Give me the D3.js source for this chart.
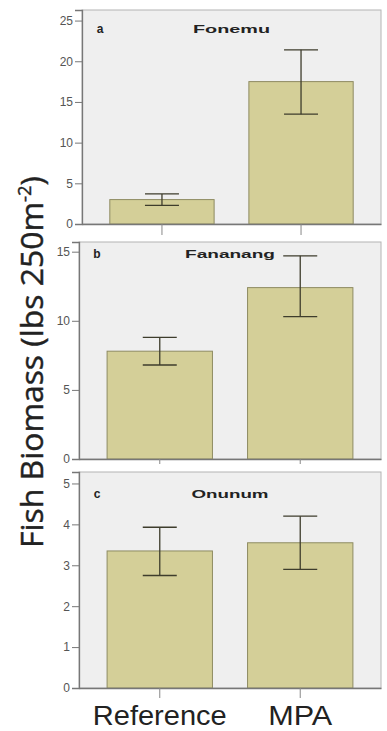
<!DOCTYPE html>
<html>
<head>
<meta charset="utf-8">
<script src="https://cdn.jsdelivr.net/npm/d3@7"></script>
<style>
  html, body { margin: 0; padding: 0; background: #fff; }
  svg { display: block; }
  .tick text { font-family: "Liberation Sans", Arial, sans-serif; }
</style>
</head>
<body>
<div id="chart"></div>
<script>
const sites = ['Fonemu', 'Fananang', 'Onunum'];
const panelLetters = ['a', 'b', 'c'];
const categories = ['Reference', 'MPA'];
// mean fish biomass per site, [Reference, MPA]
const meanBiomass = [[3.0, 17.5], [7.8, 12.4], [3.35, 3.55]];
const errLow = [[2.3, 13.5], [6.8, 10.3], [2.75, 2.9]];
const errHigh = [[3.7, 21.4], [8.8, 14.7], [3.93, 4.2]];
const yMax = [26.3, 15.7, 5.28];
const yTicks = [[0, 5, 10, 15, 20, 25], [0, 5, 10, 15], [0, 1, 2, 3, 4, 5]];

const width = 387;
const height = 731;
// vertical placement of each panel box
const panels = [
  { top: 10, bottom: 224, left: 82, tickLen: 11, titleDy: 23 },
  { top: 242, bottom: 459, left: 79, tickLen: 5, titleDy: 16 },
  { top: 472, bottom: 688, left: 79, tickLen: 10, titleDy: 26 },
];
const right = 381;
const titleWidths = [77, 90, 77];

const svg = d3.select('#chart').append('svg')
  .attr('width', width).attr('height', height);

sites.forEach((site, i) => {
  const p = panels[i];
  const x = d3.scaleBand().domain(categories).range([p.left, right])
    .paddingInner(0.25).paddingOuter(0.2);
  const y = d3.scaleLinear().domain([0, yMax[i]]).range([p.bottom, p.top]);
  const g = svg.append('g');

  g.append('rect')
    .attr('x', p.left).attr('y', p.top)
    .attr('width', right - p.left).attr('height', p.bottom - p.top)
    .attr('fill', '#efefef').attr('stroke', '#b4b4b4').attr('stroke-width', 1);

  g.selectAll('rect.bar').data(categories).join('rect')
    .attr('class', 'bar')
    .attr('x', (d) => x(d))
    .attr('y', (d, j) => y(meanBiomass[i][j]))
    .attr('width', x.bandwidth())
    .attr('height', (d, j) => y(0) - y(meanBiomass[i][j]))
    .attr('fill', '#d4cf98')
    .attr('stroke', '#8e8b62')
    .attr('stroke-width', 1);

  const capW = 34;
  categories.forEach((c, j) => {
    const cx = x(c) + x.bandwidth() / 2;
    const eg = g.append('g').attr('stroke', '#3e3d2c').attr('stroke-width', 1.3);
    eg.append('line').attr('x1', cx).attr('x2', cx)
      .attr('y1', y(errLow[i][j])).attr('y2', y(errHigh[i][j]));
    [errLow[i][j], errHigh[i][j]].forEach((v) => {
      eg.append('line').attr('x1', cx - capW / 2).attr('x2', cx + capW / 2)
        .attr('y1', y(v)).attr('y2', y(v));
    });
  });

  // y axis
  const yAxis = g.append('g').attr('transform', `translate(${p.left},0)`)
    .call(d3.axisLeft(y).tickValues(yTicks[i]).tickSize(7).tickPadding(2).tickFormat(d3.format('d')));
  yAxis.select('.domain').attr('stroke', '#777').attr('stroke-width', 1.3);
  yAxis.selectAll('.tick line').attr('stroke', '#777');
  yAxis.selectAll('.tick text').attr('fill', '#555').attr('font-size', 12);

  // x axis
  const xAxis = g.append('g').attr('transform', `translate(0,${p.bottom})`)
    .call(d3.axisBottom(x).tickSize(p.tickLen).tickSizeOuter(0).tickPadding(4));
  xAxis.select('.domain').attr('stroke', '#777').attr('stroke-width', 1.3);
  xAxis.selectAll('.tick line').attr('stroke', '#888');
  if (i < sites.length - 1) {
    xAxis.selectAll('.tick text').remove();
  } else {
    xAxis.selectAll('.tick text')
      .attr('fill', '#222')
      .attr('font-family', '"Open Sans", sans-serif')
      .attr('font-size', 27)
      .attr('dy', '0.85em')
      .attr('textLength', (d) => (d === 'Reference' ? 134 : 64))
      .attr('lengthAdjust', 'spacingAndGlyphs');
  }

  g.append('text')
    .attr('x', p.left + 18).attr('y', p.top + p.titleDy)
    .attr('text-anchor', 'middle')
    .attr('font-family', '"Liberation Sans", Arial, sans-serif')
    .attr('font-weight', 'bold').attr('font-size', 12).attr('fill', '#222')
    .text(panelLetters[i]);

  g.append('text')
    .attr('x', (p.left + right) / 2).attr('y', p.top + p.titleDy)
    .attr('text-anchor', 'middle')
    .attr('font-family', '"Liberation Sans", Arial, sans-serif')
    .attr('font-weight', 'bold').attr('font-size', 11).attr('fill', '#222')
    .attr('textLength', titleWidths[i]).attr('lengthAdjust', 'spacingAndGlyphs')
    .text(site);
});

const yTitle = svg.append('text')
  .attr('transform', 'translate(43,362) rotate(-90)')
  .attr('text-anchor', 'middle')
  .attr('font-family', '"Open Sans", sans-serif')
  .attr('font-size', 31)
  .attr('fill', '#222')
  .attr('stroke', '#222').attr('stroke-width', 0.4)
  .attr('textLength', 372)
  .attr('lengthAdjust', 'spacingAndGlyphs');
yTitle.append('tspan').text('Fish Biomass (lbs 250m');
yTitle.append('tspan').attr('font-size', 18).attr('dy', -12).text('-2');
yTitle.append('tspan').attr('dy', 12).text(')');
</script>
</body>
</html>
